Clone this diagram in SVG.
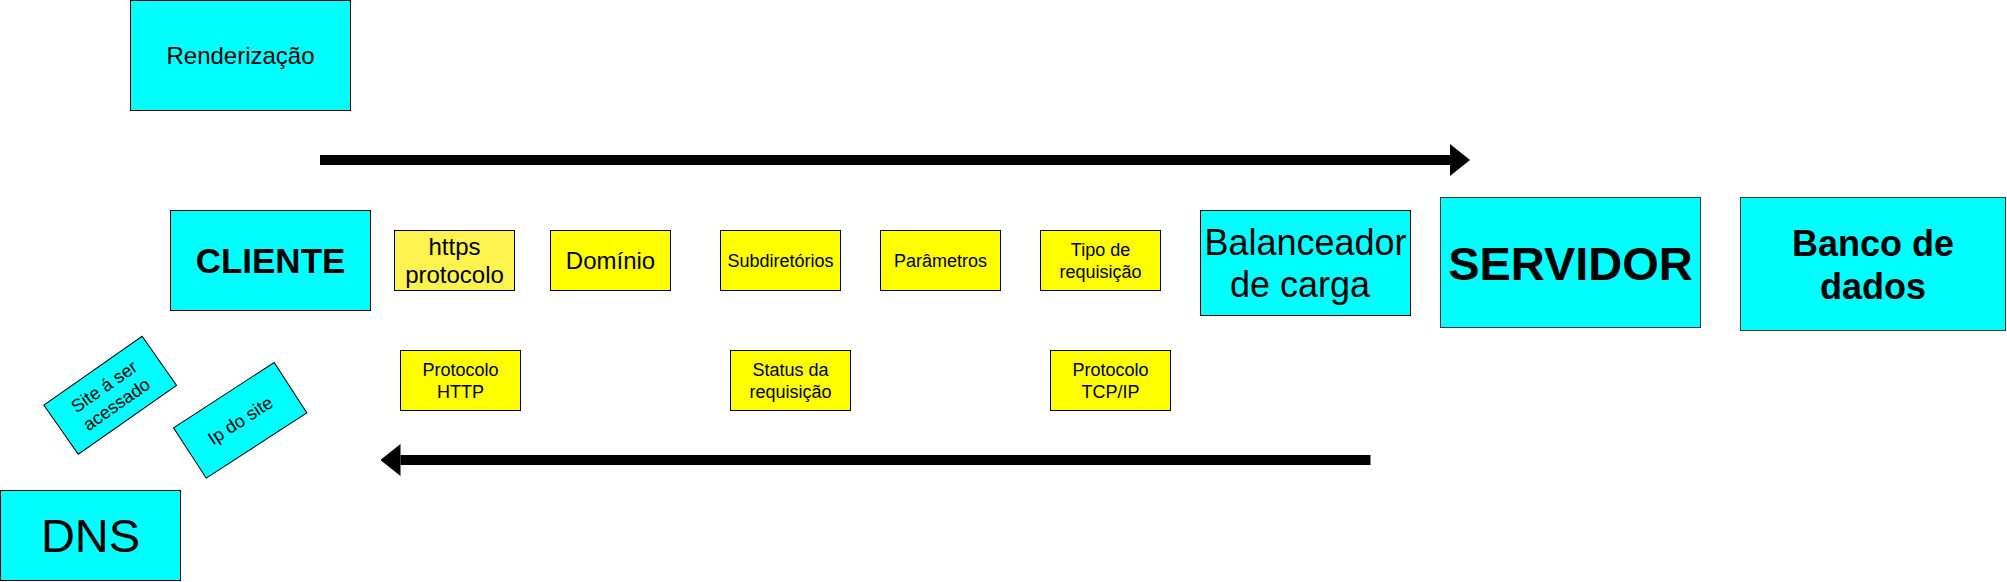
<svg xmlns="http://www.w3.org/2000/svg" width="2007" height="582" viewBox="0 0 2007 582">
<style>
  .cyan { fill: #00FFFF; stroke: #000; stroke-width: 1; }
  .cyan2 { fill: #00FFFF; stroke: #36393d; stroke-width: 1; }
  .yel { fill: #FFFF00; stroke: #000; stroke-width: 1; }
  .yel2 { fill: #FFF44F; stroke: #000; stroke-width: 1; }
  text { font-family: "Liberation Sans", Arial, Helvetica, sans-serif; fill: #000; text-anchor: middle; }
  .s18 { font-size: 18px; }
  .s24 { font-size: 24px; }
  .s36 { font-size: 36px; }
  .b { font-weight: bold; }
  .conn { stroke: #000; stroke-width: 10; fill: none; stroke-linecap: butt; }
</style>
<defs>
  <marker id="block" markerUnits="userSpaceOnUse" markerWidth="20" markerHeight="32" viewBox="0 0 20 32" refX="0" refY="16" orient="auto">
    <path d="M0,0 L20,16 L0,32 Z" fill="#000"/>
  </marker>
</defs>
<rect width="2007" height="582" fill="#fff"/>

<g id="renderizacao">
  <rect class="cyan" x="130.5" y="0.5" width="220" height="110"/>
  <text class="s24" x="240.5" y="64">Renderização</text>
</g>
<g id="cliente">
  <rect class="cyan" x="170.5" y="210.5" width="200" height="100"/>
  <text class="b" style="font-size:35px" x="270.5" y="273">CLIENTE</text>
</g>
<g id="https">
  <rect class="yel2" x="394.5" y="230.5" width="120" height="60"/>
  <text class="s24" x="454.5" y="254.5">https</text>
  <text class="s24" x="454.5" y="283.3">protocolo</text>
</g>
<g id="dominio">
  <rect class="yel" x="550.5" y="230.5" width="120" height="60"/>
  <text class="s24" x="610.5" y="269">Domínio</text>
</g>
<g id="subdiretorios">
  <rect class="yel" x="720.5" y="230.5" width="120" height="60"/>
  <text class="s18" x="780.5" y="266.8">Subdiretórios</text>
</g>
<g id="parametros">
  <rect class="yel" x="880.5" y="230.5" width="120" height="60"/>
  <text class="s18" x="940.5" y="266.8">Parâmetros</text>
</g>
<g id="tipo">
  <rect class="yel" x="1040.5" y="230.5" width="120" height="60"/>
  <text class="s18" x="1100.5" y="256">Tipo de</text>
  <text class="s18" x="1100.5" y="277.6">requisição</text>
</g>
<g id="balanceador">
  <rect class="cyan" x="1200.5" y="210.5" width="210" height="105"/>
  <text class="s36" x="1305.5" y="254.5">Balanceador</text>
  <text class="s36" x="1300" y="297">de carga</text>
</g>
<g id="servidor">
  <rect class="cyan2" x="1440.5" y="197.5" width="260" height="130"/>
  <text class="b" style="font-size:47px" x="1570.5" y="279.5">SERVIDOR</text>
</g>
<g id="banco">
  <rect class="cyan2" x="1740.5" y="197.5" width="265" height="133"/>
  <text class="s36 b" x="1873" y="255.5">Banco de</text>
  <text class="s36 b" x="1873" y="298.7">dados</text>
</g>
<g id="protocolo-http">
  <rect class="yel" x="400.5" y="350.5" width="120" height="60"/>
  <text class="s18" x="460.5" y="376">Protocolo</text>
  <text class="s18" x="460.5" y="397.6">HTTP</text>
</g>
<g id="status">
  <rect class="yel" x="730.5" y="350.5" width="120" height="60"/>
  <text class="s18" x="790.5" y="376">Status da</text>
  <text class="s18" x="790.5" y="397.6">requisição</text>
</g>
<g id="tcpip">
  <rect class="yel" x="1050.5" y="350.5" width="120" height="60"/>
  <text class="s18" x="1110.5" y="376">Protocolo</text>
  <text class="s18" x="1110.5" y="397.6">TCP/IP</text>
</g>
<g id="site" transform="translate(110.2,395.3) rotate(-35)">
  <rect class="cyan" x="-60" y="-30" width="120" height="60"/>
  <text class="s18" x="0" y="-4.5">Site á ser</text>
  <text class="s18" x="0" y="17.1">acessado</text>
</g>
<g id="ip" transform="translate(240.2,420.3) rotate(-33)">
  <rect class="cyan" x="-60" y="-30" width="120" height="60"/>
  <text class="s18" x="0" y="6.3">Ip do site</text>
</g>
<g id="dns">
  <rect class="cyan" x="0.5" y="490.5" width="180" height="90"/>
  <text style="font-size:47px" x="90.5" y="552">DNS</text>
</g>

<g id="connectors">
  <line class="conn" x1="320" y1="160" x2="1450" y2="160" marker-end="url(#block)"/>
  <line class="conn" x1="1370.5" y1="460" x2="400.5" y2="460" marker-end="url(#block)"/>
</g>
</svg>
